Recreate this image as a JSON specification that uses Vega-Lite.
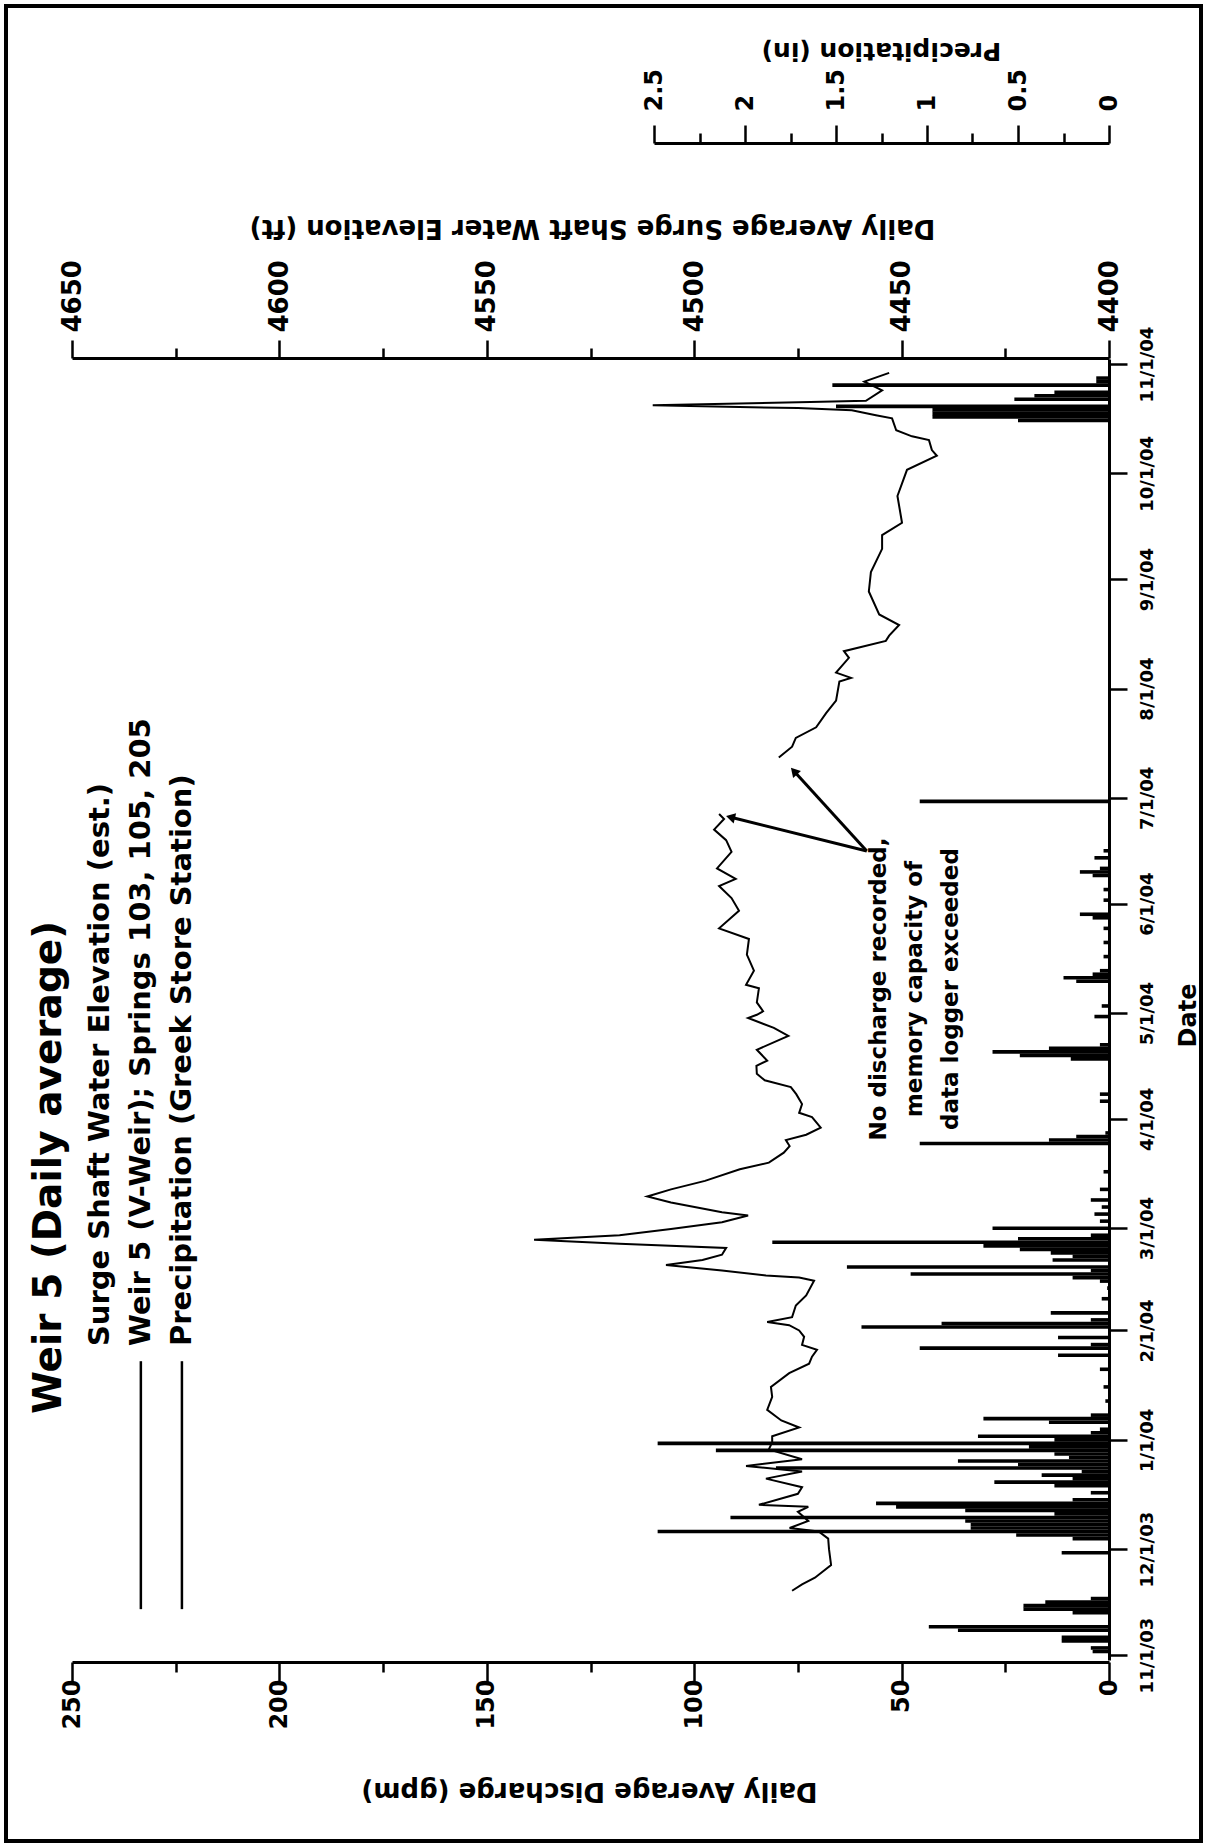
{
  "$schema": "https://vega.github.io/schema/vega-lite/v6.json",
  "width": 1195,
  "height": 1835,
  "autosize": "none",
  "padding": {"left": 6, "top": 6, "right": 6, "bottom": 4},
  "background": "white",
  "config": {
    "view": {"stroke": "black", "strokeWidth": 4},
    "axis": {
      "domainColor": "black", "domainWidth": 3, "tickColor": "black", "tickWidth": 2.5,
      "labelColor": "black", "titleColor": "black", "labelFont": "DejaVu Sans", "labelFontWeight": "bold",
      "titleFont": "DejaVu Sans", "titleFontWeight": "bold", "grid": false,
      "labelOverlap": false, "labelFlush": false, "labelBound": false
    }
  },
  "datasets": {
    "surge": [],
    "weir": [
      {"date": "2003-11-19T05:00", "gpm": 76.4, "seg": 1},
      {"date": "2003-11-21T00:00", "gpm": 74, "seg": 1},
      {"date": "2003-11-22T22:00", "gpm": 70.9, "seg": 1},
      {"date": "2003-11-26T12:00", "gpm": 67, "seg": 1},
      {"date": "2003-12-01T00:00", "gpm": 67.5, "seg": 1},
      {"date": "2003-12-04T00:00", "gpm": 67.7, "seg": 1},
      {"date": "2003-12-06T00:00", "gpm": 70, "seg": 1},
      {"date": "2003-12-07T00:00", "gpm": 77, "seg": 1},
      {"date": "2003-12-09T00:00", "gpm": 72.5, "seg": 1},
      {"date": "2003-12-11T14:00", "gpm": 75, "seg": 1},
      {"date": "2003-12-13T00:00", "gpm": 72.5, "seg": 1},
      {"date": "2003-12-13T14:00", "gpm": 84.4, "seg": 1},
      {"date": "2003-12-16T17:00", "gpm": 75, "seg": 1},
      {"date": "2003-12-18T14:00", "gpm": 74, "seg": 1},
      {"date": "2003-12-21T00:00", "gpm": 82.7, "seg": 1},
      {"date": "2003-12-23T00:00", "gpm": 74, "seg": 1},
      {"date": "2003-12-24T14:00", "gpm": 87.5, "seg": 1},
      {"date": "2003-12-26T12:00", "gpm": 74, "seg": 1},
      {"date": "2003-12-29T07:00", "gpm": 82, "seg": 1},
      {"date": "2003-12-31T07:00", "gpm": 81.2, "seg": 1},
      {"date": "2004-01-02T00:00", "gpm": 81.2, "seg": 1},
      {"date": "2004-01-04T12:00", "gpm": 74.7, "seg": 1},
      {"date": "2004-01-06T12:00", "gpm": 79, "seg": 1},
      {"date": "2004-01-09T12:00", "gpm": 82.4, "seg": 1},
      {"date": "2004-01-13T05:00", "gpm": 81.2, "seg": 1},
      {"date": "2004-01-16T00:00", "gpm": 81.5, "seg": 1},
      {"date": "2004-01-19T22:00", "gpm": 77.1, "seg": 1},
      {"date": "2004-01-22T14:00", "gpm": 72.3, "seg": 1},
      {"date": "2004-01-24T14:00", "gpm": 71.6, "seg": 1},
      {"date": "2004-01-26T12:00", "gpm": 70.4, "seg": 1},
      {"date": "2004-01-27T22:00", "gpm": 74, "seg": 1},
      {"date": "2004-01-30T05:00", "gpm": 73.5, "seg": 1},
      {"date": "2004-02-01T00:00", "gpm": 74.7, "seg": 1},
      {"date": "2004-02-02T12:00", "gpm": 77.1, "seg": 1},
      {"date": "2004-02-03T10:00", "gpm": 82.4, "seg": 1},
      {"date": "2004-02-04T19:00", "gpm": 76.4, "seg": 1},
      {"date": "2004-02-08T02:00", "gpm": 75.5, "seg": 1},
      {"date": "2004-02-10T22:00", "gpm": 73, "seg": 1},
      {"date": "2004-02-15T02:00", "gpm": 71.1, "seg": 1},
      {"date": "2004-02-16T00:00", "gpm": 74.7, "seg": 1},
      {"date": "2004-02-16T14:00", "gpm": 82.7, "seg": 1},
      {"date": "2004-02-18T00:00", "gpm": 93.3, "seg": 1},
      {"date": "2004-02-19T14:00", "gpm": 106.8, "seg": 1},
      {"date": "2004-02-21T00:00", "gpm": 98, "seg": 1},
      {"date": "2004-02-22T12:00", "gpm": 93.3, "seg": 1},
      {"date": "2004-02-24T10:00", "gpm": 92.3, "seg": 1},
      {"date": "2004-02-25T14:00", "gpm": 118, "seg": 1},
      {"date": "2004-02-26T17:00", "gpm": 138.6, "seg": 1},
      {"date": "2004-02-28T00:00", "gpm": 118, "seg": 1},
      {"date": "2004-02-29T19:00", "gpm": 105.6, "seg": 1},
      {"date": "2004-03-02T17:00", "gpm": 93.3, "seg": 1},
      {"date": "2004-03-04T14:00", "gpm": 87, "seg": 1},
      {"date": "2004-03-05T12:00", "gpm": 93.3, "seg": 1},
      {"date": "2004-03-08T07:00", "gpm": 105.6, "seg": 1},
      {"date": "2004-03-10T00:00", "gpm": 111.3, "seg": 1},
      {"date": "2004-03-12T00:00", "gpm": 105.6, "seg": 1},
      {"date": "2004-03-14T10:00", "gpm": 97.4, "seg": 1},
      {"date": "2004-03-17T17:00", "gpm": 89, "seg": 1},
      {"date": "2004-03-19T14:00", "gpm": 82, "seg": 1},
      {"date": "2004-03-22T10:00", "gpm": 78.4, "seg": 1},
      {"date": "2004-03-24T07:00", "gpm": 77, "seg": 1},
      {"date": "2004-03-26T00:00", "gpm": 77.9, "seg": 1},
      {"date": "2004-03-27T12:00", "gpm": 73, "seg": 1},
      {"date": "2004-03-29T12:00", "gpm": 69.5, "seg": 1},
      {"date": "2004-04-01T12:00", "gpm": 71.6, "seg": 1},
      {"date": "2004-04-02T17:00", "gpm": 74.7, "seg": 1},
      {"date": "2004-04-05T05:00", "gpm": 74, "seg": 1},
      {"date": "2004-04-08T00:00", "gpm": 75.4, "seg": 1},
      {"date": "2004-04-10T00:00", "gpm": 76.7, "seg": 1},
      {"date": "2004-04-11T22:00", "gpm": 83, "seg": 1},
      {"date": "2004-04-13T19:00", "gpm": 84.9, "seg": 1},
      {"date": "2004-04-16T00:00", "gpm": 85, "seg": 1},
      {"date": "2004-04-17T12:00", "gpm": 82.4, "seg": 1},
      {"date": "2004-04-20T14:00", "gpm": 84.9, "seg": 1},
      {"date": "2004-04-24T12:00", "gpm": 77.3, "seg": 1},
      {"date": "2004-04-26T19:00", "gpm": 80.8, "seg": 1},
      {"date": "2004-04-29T14:00", "gpm": 87, "seg": 1},
      {"date": "2004-04-30T12:00", "gpm": 84.9, "seg": 1},
      {"date": "2004-05-01T12:00", "gpm": 83.4, "seg": 1},
      {"date": "2004-05-04T00:00", "gpm": 84.9, "seg": 1},
      {"date": "2004-05-08T00:00", "gpm": 84.4, "seg": 1},
      {"date": "2004-05-09T00:00", "gpm": 87.5, "seg": 1},
      {"date": "2004-05-13T00:00", "gpm": 85.6, "seg": 1},
      {"date": "2004-05-17T14:00", "gpm": 87.3, "seg": 1},
      {"date": "2004-05-22T00:00", "gpm": 86.8, "seg": 1},
      {"date": "2004-05-25T00:00", "gpm": 94, "seg": 1},
      {"date": "2004-05-30T00:00", "gpm": 89.2, "seg": 1},
      {"date": "2004-06-02T14:00", "gpm": 91, "seg": 1},
      {"date": "2004-06-06T00:00", "gpm": 94, "seg": 1},
      {"date": "2004-06-08T00:00", "gpm": 90, "seg": 1},
      {"date": "2004-06-11T00:00", "gpm": 94.5, "seg": 1},
      {"date": "2004-06-15T17:00", "gpm": 91, "seg": 1},
      {"date": "2004-06-19T00:00", "gpm": 92.3, "seg": 1},
      {"date": "2004-06-22T00:00", "gpm": 95.2, "seg": 1},
      {"date": "2004-06-25T00:00", "gpm": 92.8, "seg": 1},
      {"date": "2004-06-26T10:00", "gpm": 94, "seg": 1},
      {"date": "2004-07-12T10:00", "gpm": 79.6, "seg": 2},
      {"date": "2004-07-15T12:00", "gpm": 76.4, "seg": 2},
      {"date": "2004-07-18T00:00", "gpm": 75.5, "seg": 2},
      {"date": "2004-07-21T00:00", "gpm": 70.6, "seg": 2},
      {"date": "2004-07-25T00:00", "gpm": 68.2, "seg": 2},
      {"date": "2004-07-28T14:00", "gpm": 65.8, "seg": 2},
      {"date": "2004-08-03T00:00", "gpm": 65, "seg": 2},
      {"date": "2004-08-04T00:00", "gpm": 62.2, "seg": 2},
      {"date": "2004-08-05T12:00", "gpm": 65.8, "seg": 2},
      {"date": "2004-08-09T17:00", "gpm": 62.7, "seg": 2},
      {"date": "2004-08-11T14:00", "gpm": 63.9, "seg": 2},
      {"date": "2004-08-14T12:00", "gpm": 53.8, "seg": 2},
      {"date": "2004-08-16T00:00", "gpm": 53, "seg": 2},
      {"date": "2004-08-19T00:00", "gpm": 50.6, "seg": 2},
      {"date": "2004-08-22T00:00", "gpm": 55.4, "seg": 2},
      {"date": "2004-08-28T12:00", "gpm": 57.9, "seg": 2},
      {"date": "2004-09-03T00:00", "gpm": 57.4, "seg": 2},
      {"date": "2004-09-09T14:00", "gpm": 54.7, "seg": 2},
      {"date": "2004-09-13T12:00", "gpm": 54.7, "seg": 2},
      {"date": "2004-09-17T00:00", "gpm": 49.9, "seg": 2},
      {"date": "2004-09-24T14:00", "gpm": 51, "seg": 2},
      {"date": "2004-10-02T00:00", "gpm": 48.7, "seg": 2},
      {"date": "2004-10-06T00:00", "gpm": 41.5, "seg": 2},
      {"date": "2004-10-07T14:00", "gpm": 42.7, "seg": 2},
      {"date": "2004-10-10T10:00", "gpm": 43.4, "seg": 2},
      {"date": "2004-10-11T12:00", "gpm": 47.5, "seg": 2},
      {"date": "2004-10-13T05:00", "gpm": 51.3, "seg": 2},
      {"date": "2004-10-16T14:00", "gpm": 52.3, "seg": 2},
      {"date": "2004-10-17T12:00", "gpm": 56.2, "seg": 2},
      {"date": "2004-10-18T22:00", "gpm": 62, "seg": 2},
      {"date": "2004-10-19T12:00", "gpm": 75, "seg": 2},
      {"date": "2004-10-20T07:00", "gpm": 110, "seg": 2},
      {"date": "2004-10-21T05:00", "gpm": 72, "seg": 2},
      {"date": "2004-10-21T14:00", "gpm": 58.6, "seg": 2},
      {"date": "2004-10-24T12:00", "gpm": 54.7, "seg": 2},
      {"date": "2004-10-27T00:00", "gpm": 59, "seg": 2},
      {"date": "2004-10-29T12:00", "gpm": 53, "seg": 2}
    ],
    "precip": [
      {"date": "2003-11-02T00:00", "inches": 0.09},
      {"date": "2003-11-03T00:00", "inches": 0.1},
      {"date": "2003-11-05T00:00", "inches": 0.26},
      {"date": "2003-11-06T00:00", "inches": 0.26},
      {"date": "2003-11-08T00:00", "inches": 0.83},
      {"date": "2003-11-09T00:00", "inches": 0.99},
      {"date": "2003-11-13T00:00", "inches": 0.2},
      {"date": "2003-11-14T00:00", "inches": 0.47},
      {"date": "2003-11-15T00:00", "inches": 0.47},
      {"date": "2003-11-16T00:00", "inches": 0.35},
      {"date": "2003-11-17T00:00", "inches": 0.1},
      {"date": "2003-11-30T00:00", "inches": 0.26},
      {"date": "2003-12-04T00:00", "inches": 0.2},
      {"date": "2003-12-05T00:00", "inches": 0.51},
      {"date": "2003-12-06T00:00", "inches": 2.48},
      {"date": "2003-12-07T00:00", "inches": 0.76},
      {"date": "2003-12-08T00:00", "inches": 0.76},
      {"date": "2003-12-09T00:00", "inches": 0.79},
      {"date": "2003-12-10T00:00", "inches": 2.08},
      {"date": "2003-12-11T00:00", "inches": 0.3},
      {"date": "2003-12-12T00:00", "inches": 0.79},
      {"date": "2003-12-13T00:00", "inches": 1.17},
      {"date": "2003-12-14T00:00", "inches": 1.28},
      {"date": "2003-12-15T00:00", "inches": 0.2},
      {"date": "2003-12-17T00:00", "inches": 0.1},
      {"date": "2003-12-19T00:00", "inches": 0.3},
      {"date": "2003-12-20T00:00", "inches": 0.63},
      {"date": "2003-12-21T00:00", "inches": 0.2},
      {"date": "2003-12-22T00:00", "inches": 0.37},
      {"date": "2003-12-23T00:00", "inches": 0.15},
      {"date": "2003-12-24T00:00", "inches": 1.83},
      {"date": "2003-12-25T00:00", "inches": 0.5},
      {"date": "2003-12-26T00:00", "inches": 0.83},
      {"date": "2003-12-27T00:00", "inches": 0.22},
      {"date": "2003-12-28T00:00", "inches": 0.3},
      {"date": "2003-12-29T00:00", "inches": 2.16},
      {"date": "2003-12-30T00:00", "inches": 0.44},
      {"date": "2003-12-31T00:00", "inches": 2.48},
      {"date": "2004-01-01T00:00", "inches": 0.3},
      {"date": "2004-01-02T00:00", "inches": 0.72},
      {"date": "2004-01-03T00:00", "inches": 0.1},
      {"date": "2004-01-04T00:00", "inches": 0.05},
      {"date": "2004-01-06T00:00", "inches": 0.33},
      {"date": "2004-01-07T00:00", "inches": 0.69},
      {"date": "2004-01-08T00:00", "inches": 0.1},
      {"date": "2004-01-12T00:00", "inches": 0.02},
      {"date": "2004-01-16T00:00", "inches": 0.03},
      {"date": "2004-01-21T00:00", "inches": 0.05},
      {"date": "2004-01-25T00:00", "inches": 0.28},
      {"date": "2004-01-27T00:00", "inches": 1.04},
      {"date": "2004-01-28T00:00", "inches": 0.1},
      {"date": "2004-01-30T00:00", "inches": 0.28},
      {"date": "2004-02-02T00:00", "inches": 1.36},
      {"date": "2004-02-03T00:00", "inches": 0.92},
      {"date": "2004-02-04T00:00", "inches": 0.1},
      {"date": "2004-02-06T00:00", "inches": 0.32},
      {"date": "2004-02-10T00:00", "inches": 0.04},
      {"date": "2004-02-13T00:00", "inches": 0.01},
      {"date": "2004-02-15T00:00", "inches": 0.05},
      {"date": "2004-02-16T00:00", "inches": 0.2},
      {"date": "2004-02-17T00:00", "inches": 1.09},
      {"date": "2004-02-18T00:00", "inches": 0.1},
      {"date": "2004-02-19T00:00", "inches": 1.44},
      {"date": "2004-02-21T00:00", "inches": 0.31},
      {"date": "2004-02-22T00:00", "inches": 0.2},
      {"date": "2004-02-23T00:00", "inches": 0.32},
      {"date": "2004-02-24T00:00", "inches": 0.49},
      {"date": "2004-02-25T00:00", "inches": 0.69},
      {"date": "2004-02-26T00:00", "inches": 1.85},
      {"date": "2004-02-27T00:00", "inches": 0.5},
      {"date": "2004-02-28T00:00", "inches": 0.1},
      {"date": "2004-03-01T00:00", "inches": 0.64},
      {"date": "2004-03-03T00:00", "inches": 0.05},
      {"date": "2004-03-05T00:00", "inches": 0.08},
      {"date": "2004-03-07T00:00", "inches": 0.04},
      {"date": "2004-03-09T00:00", "inches": 0.1},
      {"date": "2004-03-12T00:00", "inches": 0.05},
      {"date": "2004-03-17T00:00", "inches": 0.03},
      {"date": "2004-03-25T00:00", "inches": 1.04},
      {"date": "2004-03-26T00:00", "inches": 0.33},
      {"date": "2004-03-27T00:00", "inches": 0.18},
      {"date": "2004-03-28T00:00", "inches": 0.02},
      {"date": "2004-04-06T00:00", "inches": 0.05},
      {"date": "2004-04-08T00:00", "inches": 0.05},
      {"date": "2004-04-18T00:00", "inches": 0.21},
      {"date": "2004-04-19T00:00", "inches": 0.49},
      {"date": "2004-04-20T00:00", "inches": 0.64},
      {"date": "2004-04-21T00:00", "inches": 0.33},
      {"date": "2004-04-22T00:00", "inches": 0.05},
      {"date": "2004-04-30T00:00", "inches": 0.08},
      {"date": "2004-05-03T00:00", "inches": 0.04},
      {"date": "2004-05-10T00:00", "inches": 0.18},
      {"date": "2004-05-11T00:00", "inches": 0.25},
      {"date": "2004-05-12T00:00", "inches": 0.09},
      {"date": "2004-05-13T00:00", "inches": 0.05},
      {"date": "2004-05-17T00:00", "inches": 0.03},
      {"date": "2004-05-21T00:00", "inches": 0.03},
      {"date": "2004-05-25T00:00", "inches": 0.03},
      {"date": "2004-05-28T00:00", "inches": 0.09},
      {"date": "2004-05-29T00:00", "inches": 0.16},
      {"date": "2004-06-02T00:00", "inches": 0.03},
      {"date": "2004-06-05T00:00", "inches": 0.03},
      {"date": "2004-06-09T00:00", "inches": 0.09},
      {"date": "2004-06-10T00:00", "inches": 0.16},
      {"date": "2004-06-11T00:00", "inches": 0.05},
      {"date": "2004-06-14T00:00", "inches": 0.08},
      {"date": "2004-06-16T00:00", "inches": 0.03},
      {"date": "2004-06-30T00:00", "inches": 1.04},
      {"date": "2004-10-16T00:00", "inches": 0.5},
      {"date": "2004-10-17T00:00", "inches": 0.97},
      {"date": "2004-10-18T00:00", "inches": 0.97},
      {"date": "2004-10-19T00:00", "inches": 0.97},
      {"date": "2004-10-20T00:00", "inches": 1.5},
      {"date": "2004-10-22T00:00", "inches": 0.52},
      {"date": "2004-10-23T00:00", "inches": 0.41},
      {"date": "2004-10-24T00:00", "inches": 0.3},
      {"date": "2004-10-26T00:00", "inches": 1.52},
      {"date": "2004-10-27T00:00", "inches": 0.07},
      {"date": "2004-10-28T00:00", "inches": 0.07}
    ]
  },
  "resolve": {"scale": {"x": "independent"}, "axis": {"x": "independent"}},
  "layer": [
    {
      "data": {"name": "weir"},
      "mark": {"type": "line", "color": "black", "strokeWidth": 2},
      "encoding": {
        "x": {
          "field": "gpm", "type": "quantitative",
          "scale": {"domain": [0, 250], "range": [1103, 66], "nice": false, "zero": false},
          "axis": {
            "orient": "bottom", "offset": -179,
            "values": [0, 25, 50, 75, 100, 125, 150, 175, 200, 225, 250],
            "format": "d",
            "labelExpr": "datum.value % 50 === 0 ? datum.label : ''",
            "tickSize": {"condition": {"test": "datum.value % 50 === 0", "value": 20}, "value": 10},
            "labelAngle": 270, "labelAlign": "right", "labelBaseline": "middle",
            "labelPadding": -3, "labelFontSize": 24,
            "title": "Daily Average Discharge (gpm)",
            "titleAngle": 180, "titleAlign": "center", "titleBaseline": "middle",
            "titleX": 583, "titleY": 128, "titleFontSize": 26
          }
        },
        "y": {
          "field": "date", "type": "temporal",
          "scale": {"domain": [{"year": 2003, "month": 11, "date": 1}, {"year": 2004, "month": 11, "date": 1}], "range": [1654, 353]},
          "axis": {
            "orient": "right", "offset": -92,
            "values": [
              {"year": 2003, "month": 11, "date": 1}, {"year": 2003, "month": 12, "date": 1},
              {"year": 2004, "month": 1, "date": 1}, {"year": 2004, "month": 2, "date": 1},
              {"year": 2004, "month": 3, "date": 1}, {"year": 2004, "month": 4, "date": 1},
              {"year": 2004, "month": 5, "date": 1}, {"year": 2004, "month": 6, "date": 1},
              {"year": 2004, "month": 7, "date": 1}, {"year": 2004, "month": 8, "date": 1},
              {"year": 2004, "month": 9, "date": 1}, {"year": 2004, "month": 10, "date": 1},
              {"year": 2004, "month": 11, "date": 1}
            ],
            "format": "%-m/%-d/%y",
            "labelAngle": 270, "labelAlign": "center", "labelBaseline": "top",
            "labelPadding": 11, "labelFontSize": 18, "tickSize": 18,
            "title": "Date", "titleAngle": 270, "titleAlign": "center", "titleBaseline": "middle",
            "titleX": 79, "titleY": 1009, "titleFontSize": 24
          }
        },
        "detail": {"field": "seg", "type": "nominal"},
        "order": {"field": "date", "type": "temporal"}
      }
    },
    {
      "data": {"name": "surge"},
      "mark": {"type": "line", "color": "black"},
      "encoding": {
        "x": {
          "field": "elevation", "type": "quantitative",
          "scale": {"domain": [4400, 4650], "range": [1103, 66], "nice": false, "zero": false},
          "axis": {
            "orient": "top", "offset": -352,
            "values": [4400, 4425, 4450, 4475, 4500, 4525, 4550, 4575, 4600, 4625, 4650],
            "format": "d",
            "labelExpr": "datum.value % 50 === 0 ? datum.label : ''",
            "tickSize": {"condition": {"test": "datum.value % 50 === 0", "value": 18}, "value": 10},
            "labelAngle": 270, "labelAlign": "left", "labelBaseline": "middle",
            "labelPadding": 8, "labelFontSize": 26,
            "title": "Daily Average Surge Shaft Water Elevation (ft)",
            "titleAngle": 180, "titleAlign": "center", "titleBaseline": "middle",
            "titleX": 586, "titleY": -131, "titleFontSize": 26
          }
        },
        "y": {
          "field": "date", "type": "temporal",
          "scale": {"domain": [{"year": 2003, "month": 11, "date": 1}, {"year": 2004, "month": 11, "date": 1}], "range": [1654, 353]}
        }
      }
    },
    {
      "data": {"name": "precip"},
      "mark": {"type": "bar", "orient": "horizontal", "size": 3.6, "color": "black"},
      "encoding": {
        "x": {
          "field": "inches", "type": "quantitative",
          "scale": {"domain": [0, 2.5], "range": [1103, 648], "nice": false, "zero": false},
          "axis": {
            "orient": "top", "offset": -137,
            "values": [0, 0.25, 0.5, 0.75, 1, 1.25, 1.5, 1.75, 2, 2.25, 2.5],
            "format": "~g",
            "labelExpr": "datum.value % 0.5 === 0 ? datum.label : ''",
            "tickSize": {"condition": {"test": "datum.value % 0.5 === 0", "value": 18}, "value": 10},
            "labelAngle": 270, "labelAlign": "left", "labelBaseline": "middle",
            "labelPadding": 14, "labelFontSize": 24,
            "title": "Precipitation (in)",
            "titleAngle": 180, "titleAlign": "center", "titleBaseline": "middle",
            "titleX": 875, "titleY": -93, "titleFontSize": 25
          }
        },
        "y": {
          "field": "date", "type": "temporal",
          "scale": {"domain": [{"year": 2003, "month": 11, "date": 1}, {"year": 2004, "month": 11, "date": 1}], "range": [1654, 353]}
        }
      }
    },
    {
      "data": {"values": [{}]},
      "mark": {"type": "text", "text": "Weir 5 (Daily average)", "angle": 270, "align": "center", "baseline": "middle", "font": "DejaVu Sans", "fontWeight": "bold", "fontSize": 39, "color": "black"},
      "encoding": {
        "x": {"datum": 255.5, "type": "quantitative", "scale": {"domain": [0, 250], "range": [1103, 66], "nice": false, "zero": false}, "axis": null},
        "y": {"datum": {"year": 2004, "month": 3, "date": 18, "hours": 5}, "type": "temporal", "scale": {"domain": [{"year": 2003, "month": 11, "date": 1}, {"year": 2004, "month": 11, "date": 1}], "range": [1654, 353]}}
      }
    },
    {
      "data": {"values": [{}]},
      "mark": {"type": "text", "text": "Surge Shaft Water Elevation (est.)", "angle": 270, "align": "left", "baseline": "middle", "font": "DejaVu Sans", "fontWeight": "bold", "fontSize": 29, "color": "black"},
      "encoding": {
        "x": {"datum": 243.2, "type": "quantitative", "scale": {"domain": [0, 250], "range": [1103, 66], "nice": false, "zero": false}, "axis": null},
        "y": {"datum": {"year": 2004, "month": 1, "date": 27, "hours": 14}, "type": "temporal", "scale": {"domain": [{"year": 2003, "month": 11, "date": 1}, {"year": 2004, "month": 11, "date": 1}], "range": [1654, 353]}}
      }
    },
    {
      "data": {"values": [{}]},
      "mark": {"type": "text", "text": "Weir 5 (V-Weir); Springs 103, 105, 205", "angle": 270, "align": "left", "baseline": "middle", "font": "DejaVu Sans", "fontWeight": "bold", "fontSize": 29, "color": "black"},
      "encoding": {
        "x": {"datum": 233.4, "type": "quantitative", "scale": {"domain": [0, 250], "range": [1103, 66], "nice": false, "zero": false}, "axis": null},
        "y": {"datum": {"year": 2004, "month": 1, "date": 27, "hours": 14}, "type": "temporal", "scale": {"domain": [{"year": 2003, "month": 11, "date": 1}, {"year": 2004, "month": 11, "date": 1}], "range": [1654, 353]}}
      }
    },
    {
      "data": {"values": [{}]},
      "mark": {"type": "text", "text": "Precipitation (Greek Store Station)", "angle": 270, "align": "left", "baseline": "middle", "font": "DejaVu Sans", "fontWeight": "bold", "fontSize": 29, "color": "black"},
      "encoding": {
        "x": {"datum": 223.5, "type": "quantitative", "scale": {"domain": [0, 250], "range": [1103, 66], "nice": false, "zero": false}, "axis": null},
        "y": {"datum": {"year": 2004, "month": 1, "date": 27, "hours": 14}, "type": "temporal", "scale": {"domain": [{"year": 2003, "month": 11, "date": 1}, {"year": 2004, "month": 11, "date": 1}], "range": [1654, 353]}}
      }
    },
    {
      "data": {"values": [{}]},
      "mark": {"type": "rule", "color": "black", "strokeWidth": 2.5},
      "encoding": {
        "x": {"datum": 233.4, "type": "quantitative", "scale": {"domain": [0, 250], "range": [1103, 66], "nice": false, "zero": false}, "axis": null},
        "y": {"datum": {"year": 2004, "month": 1, "date": 23, "hours": 7}, "type": "temporal", "scale": {"domain": [{"year": 2003, "month": 11, "date": 1}, {"year": 2004, "month": 11, "date": 1}], "range": [1654, 353]}},
        "y2": {"datum": {"year": 2003, "month": 11, "date": 14}}
      }
    },
    {
      "data": {"values": [{}]},
      "mark": {"type": "rule", "color": "black", "strokeWidth": 2.5},
      "encoding": {
        "x": {"datum": 223.5, "type": "quantitative", "scale": {"domain": [0, 250], "range": [1103, 66], "nice": false, "zero": false}, "axis": null},
        "y": {"datum": {"year": 2004, "month": 1, "date": 23, "hours": 7}, "type": "temporal", "scale": {"domain": [{"year": 2003, "month": 11, "date": 1}, {"year": 2004, "month": 11, "date": 1}], "range": [1654, 353]}},
        "y2": {"datum": {"year": 2003, "month": 11, "date": 14}}
      }
    },
    {
      "data": {"values": [{}]},
      "mark": {"type": "text", "text": ["No discharge recorded,", "memory capacity of", "data logger exceeded"], "angle": 270, "align": "center", "baseline": "middle", "lineHeight": 36, "font": "DejaVu Sans", "fontWeight": "bold", "fontSize": 23, "color": "black"},
      "encoding": {
        "x": {"datum": 55.5, "type": "quantitative", "scale": {"domain": [0, 250], "range": [1103, 66], "nice": false, "zero": false}, "axis": null},
        "y": {"datum": {"year": 2004, "month": 5, "date": 7, "hours": 19}, "type": "temporal", "scale": {"domain": [{"year": 2003, "month": 11, "date": 1}, {"year": 2004, "month": 11, "date": 1}], "range": [1654, 353]}}
      }
    },
    {
      "data": {"values": [{}]},
      "mark": {"type": "rule", "color": "black", "strokeWidth": 3},
      "encoding": {
        "x": {"datum": 58.4, "type": "quantitative", "scale": {"domain": [0, 250], "range": [1103, 66], "nice": false, "zero": false}, "axis": null},
        "x2": {"datum": 90.9},
        "y": {"datum": {"year": 2004, "month": 6, "date": 15, "hours": 22}, "type": "temporal", "scale": {"domain": [{"year": 2003, "month": 11, "date": 1}, {"year": 2004, "month": 11, "date": 1}], "range": [1654, 353]}},
        "y2": {"datum": {"year": 2004, "month": 6, "date": 25, "hours": 10}}
      }
    },
    {
      "data": {"values": [{}]},
      "mark": {"type": "rule", "color": "black", "strokeWidth": 3},
      "encoding": {
        "x": {"datum": 58.4, "type": "quantitative", "scale": {"domain": [0, 250], "range": [1103, 66], "nice": false, "zero": false}, "axis": null},
        "x2": {"datum": 75.7},
        "y": {"datum": {"year": 2004, "month": 6, "date": 15, "hours": 22}, "type": "temporal", "scale": {"domain": [{"year": 2003, "month": 11, "date": 1}, {"year": 2004, "month": 11, "date": 1}], "range": [1654, 353]}},
        "y2": {"datum": {"year": 2004, "month": 7, "date": 8, "hours": 7}}
      }
    },
    {
      "data": {"values": [{}]},
      "mark": {"type": "point", "shape": "triangle", "filled": true, "size": 110, "angle": -76, "color": "black", "opacity": 1},
      "encoding": {
        "x": {"datum": 90.9, "type": "quantitative", "scale": {"domain": [0, 250], "range": [1103, 66], "nice": false, "zero": false}, "axis": null},
        "y": {"datum": {"year": 2004, "month": 6, "date": 25, "hours": 10}, "type": "temporal", "scale": {"domain": [{"year": 2003, "month": 11, "date": 1}, {"year": 2004, "month": 11, "date": 1}], "range": [1654, 353]}}
      }
    },
    {
      "data": {"values": [{}]},
      "mark": {"type": "point", "shape": "triangle", "filled": true, "size": 110, "angle": -42, "color": "black", "opacity": 1},
      "encoding": {
        "x": {"datum": 75.7, "type": "quantitative", "scale": {"domain": [0, 250], "range": [1103, 66], "nice": false, "zero": false}, "axis": null},
        "y": {"datum": {"year": 2004, "month": 7, "date": 8, "hours": 7}, "type": "temporal", "scale": {"domain": [{"year": 2003, "month": 11, "date": 1}, {"year": 2004, "month": 11, "date": 1}], "range": [1654, 353]}}
      }
    }
  ]
}
